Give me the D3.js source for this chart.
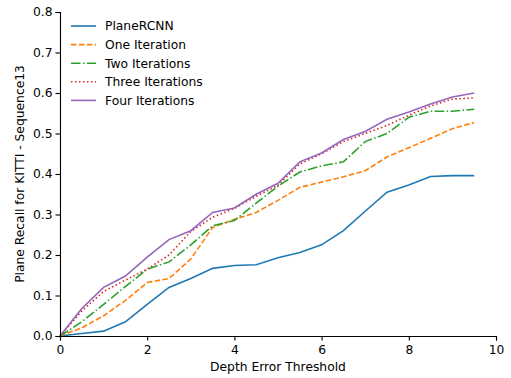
<!DOCTYPE html>
<html>
<head>
<meta charset="utf-8">
<script src="https://cdn.jsdelivr.net/npm/d3@7/dist/d3.min.js"></script>
<style>
  body { margin: 0; background: #fff; }
  svg text { font-family: "DejaVu Sans", sans-serif; fill: #000; }
</style>
</head>
<body>
<svg id="CANVAS" width="511" height="378"></svg>
<script>
// thresholds and recall values
var thresholds = [0, 0.5, 1, 1.5, 2, 2.5, 3, 3.5, 4, 4.5, 5, 5.5, 6, 6.5, 7, 7.5, 8, 8.5, 9, 9.5];
var planeRCNN   = [0, 0.006, 0.012, 0.035, 0.078, 0.120, 0.142, 0.167, 0.174, 0.176, 0.193, 0.206, 0.225, 0.260, 0.308, 0.355, 0.373, 0.394, 0.396, 0.396];
var oneIter     = [0, 0.020, 0.050, 0.088, 0.132, 0.142, 0.190, 0.268, 0.288, 0.305, 0.335, 0.367, 0.380, 0.393, 0.408, 0.442, 0.465, 0.488, 0.512, 0.527];
var twoIter     = [0, 0.035, 0.078, 0.122, 0.165, 0.183, 0.225, 0.272, 0.285, 0.328, 0.370, 0.405, 0.420, 0.430, 0.480, 0.500, 0.540, 0.555, 0.555, 0.560];
var threeIter   = [0, 0.062, 0.110, 0.138, 0.165, 0.200, 0.258, 0.293, 0.315, 0.345, 0.372, 0.425, 0.450, 0.480, 0.500, 0.520, 0.545, 0.568, 0.585, 0.588];
var fourIter    = [0, 0.068, 0.120, 0.148, 0.195, 0.238, 0.260, 0.305, 0.316, 0.350, 0.377, 0.430, 0.452, 0.485, 0.505, 0.535, 0.553, 0.573, 0.590, 0.600];
var seriesNames = ["PlaneRCNN", "One Iteration", "Two Iterations", "Three Iterations", "Four Iterations"];
var xTicks = [0, 2, 4, 6, 8, 10];
var yTicks = [0.0, 0.1, 0.2, 0.3, 0.4, 0.5, 0.6, 0.7, 0.8];

var colors = ["#1f77b4", "#ff7f0e", "#2ca02c", "#d62728", "#9467bd"];
var dashes = [null, "5.5,2.4", "9.6,2.4,1.5,2.4", "1.5,2.5", null];

var L = 60, R = 496, T = 12, B = 336;
var FS = "12.3px";
var svg = d3.select("#CANVAS");

var x = d3.scaleLinear().domain([0, 10]).range([L, R]);
var y = d3.scaleLinear().domain([0, 0.8]).range([B, T]);

var allSeries = [planeRCNN, oneIter, twoIter, threeIter, fourIter];

var line = d3.line()
    .x(function (d, i) { return x(thresholds[i]); })
    .y(function (d) { return y(d); });

svg.append("g").selectAll("path")
    .data(allSeries)
    .enter().append("path")
    .attr("d", line)
    .attr("fill", "none")
    .attr("stroke", function (d, i) { return colors[i]; })
    .attr("stroke-width", 1.6)
    .attr("stroke-dasharray", function (d, i) { return dashes[i]; });

// axes
var xAxis = svg.append("g")
    .attr("transform", "translate(0," + B + ")")
    .call(d3.axisBottom(x).tickValues(xTicks).tickFormat(d3.format("d")).tickSizeOuter(0).tickSize(4.5));
var yAxis = svg.append("g")
    .attr("transform", "translate(" + L + ",0)")
    .call(d3.axisLeft(y).tickValues(yTicks).tickFormat(d3.format(".1f")).tickSizeOuter(0).tickSize(4.5));

[xAxis, yAxis].forEach(function (a) {
    a.selectAll("path.domain").attr("stroke", "#000").attr("stroke-width", 1.1);
    a.selectAll(".tick line").attr("stroke", "#000").attr("stroke-width", 1.1);
    a.selectAll(".tick text").attr("font-size", FS).attr("font-family", "DejaVu Sans").attr("fill", "#000");
});
xAxis.selectAll(".tick text").attr("dy", "0.85em");

svg.append("text")
    .attr("x", (L + R) / 2)
    .attr("y", 371)
    .attr("text-anchor", "middle")
    .attr("font-size", FS)
    .text("Depth Error Threshold");

svg.append("text")
    .attr("transform", "translate(24," + ((T + B) / 2) + ") rotate(-90)")
    .attr("text-anchor", "middle")
    .attr("font-size", FS)
    .text("Plane Recall for KITTI - Sequence13");

// legend
var legend = svg.append("g");
var rows = legend.selectAll("g")
    .data(seriesNames)
    .enter().append("g")
    .attr("transform", function (d, i) { return "translate(71," + (26 + i * 18.6) + ")"; });
rows.append("line")
    .attr("x1", 0).attr("x2", 25)
    .attr("stroke", function (d, i) { return colors[i]; })
    .attr("stroke-width", 1.6)
    .attr("stroke-dasharray", function (d, i) { return dashes[i]; });
rows.append("text")
    .attr("x", 34)
    .attr("dy", "0.35em")
    .attr("font-size", FS)
    .text(function (d) { return d; });
</script>
</body>
</html>
